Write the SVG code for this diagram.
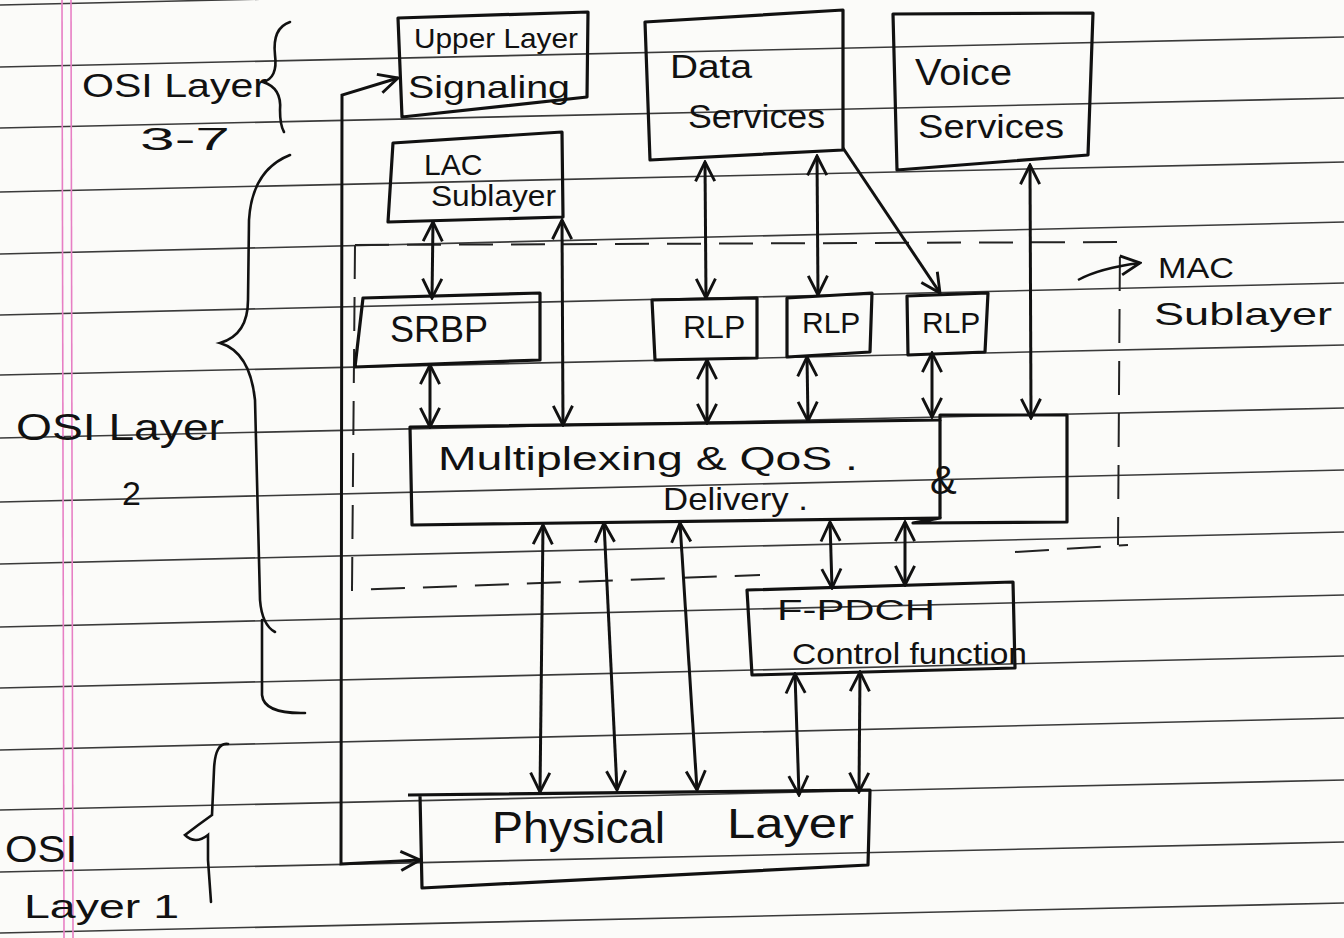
<svg xmlns="http://www.w3.org/2000/svg" width="1344" height="938" viewBox="0 0 1344 938">
<defs>
<style>
.paper{fill:#fbfbf9}
.rule{stroke:#3a3a3a;stroke-width:1.6;fill:none}
.margin{stroke:#e77fc4;stroke-width:1.6;fill:none}
.box{fill:none;stroke:#111;stroke-width:3.2;stroke-linejoin:round}
.ln{fill:none;stroke:#111;stroke-width:3}
.dash{fill:none;stroke:#222;stroke-width:2;stroke-dasharray:34 18}
.brace{fill:none;stroke:#111;stroke-width:2.6;stroke-linecap:round}
.t{font-family:"Liberation Sans",Arial,sans-serif;fill:#111}
</style>
<marker id="ah" viewBox="0 0 20 20" refX="18" refY="10" markerWidth="24" markerHeight="24" markerUnits="userSpaceOnUse" orient="auto-start-reverse">
<path d="M2,2 L18,10 L2,18" fill="none" stroke="#111" stroke-width="2.4"/>
</marker>
</defs>

<g id="paper">
<rect class="paper" x="0" y="0" width="1344" height="938"/>
<path class="rule" d="M0,5 L1344,-25"/>
<path class="rule" d="M0,67 L1344,37"/>
<path class="rule" d="M0,128 L1344,98"/>
<path class="rule" d="M0,192 L1344,162"/>
<path class="rule" d="M0,254 L1344,222"/>
<path class="rule" d="M0,315 L1344,283"/>
<path class="rule" d="M0,375 L1344,345"/>
<path class="rule" d="M0,438 L1344,408"/>
<path class="rule" d="M0,502 L1344,470"/>
<path class="rule" d="M0,564 L1344,532"/>
<path class="rule" d="M0,627 L1344,595"/>
<path class="rule" d="M0,688 L1344,656"/>
<path class="rule" d="M0,750 L1344,718"/>
<path class="rule" d="M0,810 L1344,780"/>
<path class="rule" d="M0,872 L1344,842"/>
<path class="rule" d="M0,933 L1344,903"/>
<path class="margin" d="M62,0 L64,938"/>
<path class="margin" d="M71,0 L73,938"/>
</g>

<g id="mac-sublayer">
<path class="dash" d="M355,245 L352,590 L760,575"/>
<path class="dash" d="M355,245 L1120,242 L1118,545"/>
<path class="dash" d="M1015,552 L1128,545"/>
<path class="ln" d="M1078,280 Q1100,268 1140,263" marker-end="url(#ah)" style="stroke-width:2.4"/>
<text class="t" x="1158" y="278" font-size="30" textLength="76" lengthAdjust="spacingAndGlyphs">MAC</text>
<text class="t" x="1154" y="325" font-size="32" textLength="178" lengthAdjust="spacingAndGlyphs">Sublayer</text>
</g>

<g id="osi-labels">
<path class="brace" d="M290,22 Q272,28 275,55 Q278,78 263,82 Q282,88 280,110 Q280,125 284,132"/>
<text class="t" x="82" y="97" font-size="34" textLength="185" lengthAdjust="spacingAndGlyphs">OSI Layer</text>
<text class="t" x="140" y="150" font-size="32" textLength="90" lengthAdjust="spacingAndGlyphs">3-7</text>
<path class="brace" d="M290,155 Q252,170 249,220 L248,300 Q248,335 220,343 Q250,352 255,400 L260,600 Q262,625 275,632 M262,620 L262,695 Q264,714 305,713"/>
<text class="t" x="16" y="440" font-size="36" textLength="208" lengthAdjust="spacingAndGlyphs">OSI Layer</text>
<text class="t" x="122" y="505" font-size="34">2</text>
<path class="brace" d="M228,744 Q215,742 214,770 L212,815 Q198,825 185,835 Q195,845 208,835 L208,860 L211,902"/>
<text class="t" x="5" y="862" font-size="36" textLength="72" lengthAdjust="spacingAndGlyphs">OSI</text>
<text class="t" x="24" y="918" font-size="34" textLength="155" lengthAdjust="spacingAndGlyphs">Layer 1</text>
</g>

<g id="upper-layer-signaling">
<path class="box" d="M398,18 L588,12 L587,97 L402,117 Z"/>
<text class="t" x="414" y="48" font-size="28" textLength="164" lengthAdjust="spacingAndGlyphs">Upper Layer</text>
<text class="t" x="408" y="98" font-size="32" textLength="162" lengthAdjust="spacingAndGlyphs">Signaling</text>
</g>

<g id="data-services">
<path class="box" d="M645,22 L843,10 L843,150 L650,160 Z"/>
<text class="t" x="670" y="78" font-size="34" textLength="82" lengthAdjust="spacingAndGlyphs">Data</text>
<text class="t" x="688" y="128" font-size="34" textLength="137" lengthAdjust="spacingAndGlyphs">Services</text>
</g>

<g id="voice-services">
<path class="box" d="M893,14 L1093,13 L1088,155 L897,170 Z"/>
<text class="t" x="915" y="85" font-size="36" textLength="97" lengthAdjust="spacingAndGlyphs">Voice</text>
<text class="t" x="918" y="138" font-size="34" textLength="146" lengthAdjust="spacingAndGlyphs">Services</text>
</g>

<g id="lac-sublayer">
<path class="box" d="M393,143 L562,132 L563,217 L388,222 Z"/>
<text class="t" x="424" y="175" font-size="30">LAC</text>
<text class="t" x="431" y="206" font-size="30" textLength="125" lengthAdjust="spacingAndGlyphs">Sublayer</text>
</g>

<g id="srbp">
<path class="box" d="M363,298 L540,293 L540,360 L355,367 Z"/>
<text class="t" x="390" y="342" font-size="36">SRBP</text>
</g>

<g id="rlp-1">
<path class="box" d="M652,300 L757,298 L757,358 L655,360 Z"/>
<text class="t" x="683" y="338" font-size="32">RLP</text>
</g>
<g id="rlp-2">
<path class="box" d="M787,298 L872,293 L870,352 L787,357 Z"/>
<text class="t" x="802" y="333" font-size="30">RLP</text>
</g>
<g id="rlp-3">
<path class="box" d="M907,296 L988,293 L985,352 L908,355 Z"/>
<text class="t" x="922" y="333" font-size="30">RLP</text>
</g>

<g id="multiplexing-qos-delivery">
<path class="box" d="M410,427 L940,420 L940,415 L1067,415 L1067,522 L913,523 L940,518 L412,525 Z"/>
<path class="box" d="M940,420 L940,518"/>
<text class="t" x="438" y="470" font-size="34" textLength="420" lengthAdjust="spacingAndGlyphs">Multiplexing &amp; QoS .</text>
<text class="t" x="663" y="510" font-size="32" textLength="145" lengthAdjust="spacingAndGlyphs">Delivery .</text>
<text class="t" x="930" y="494" font-size="40">&amp;</text>
</g>

<g id="f-pdch-control">
<path class="box" d="M747,590 L1013,582 L1015,668 L752,675 Z"/>
<text class="t" x="777" y="620" font-size="30" textLength="158" lengthAdjust="spacingAndGlyphs">F-PDCH</text>
<text class="t" x="792" y="664" font-size="30" textLength="235" lengthAdjust="spacingAndGlyphs">Control function</text>
</g>

<g id="physical-layer">
<path class="box" d="M408,795 L870,790 L868,865 L422,888 L420,795"/>
<text class="t" x="492" y="843" font-size="44" textLength="173" lengthAdjust="spacingAndGlyphs">Physical</text>
<text class="t" x="727" y="838" font-size="42" textLength="127" lengthAdjust="spacingAndGlyphs">Layer</text>
</g>

<g id="connectors">
<path class="ln" d="M420,860 L341,864 L342,95 L398,78" marker-start="url(#ah)" marker-end="url(#ah)"/>
<path class="ln" d="M433,222 L432,298" marker-start="url(#ah)" marker-end="url(#ah)"/>
<path class="ln" d="M562,220 L563,425" marker-start="url(#ah)" marker-end="url(#ah)"/>
<path class="ln" d="M430,365 L430,427" marker-start="url(#ah)" marker-end="url(#ah)"/>
<path class="ln" d="M705,162 L706,298" marker-start="url(#ah)" marker-end="url(#ah)"/>
<path class="ln" d="M817,156 L818,295" marker-start="url(#ah)" marker-end="url(#ah)"/>
<path class="ln" d="M843,148 L940,293" marker-end="url(#ah)"/>
<path class="ln" d="M707,360 L707,423" marker-start="url(#ah)" marker-end="url(#ah)"/>
<path class="ln" d="M807,357 L808,421" marker-start="url(#ah)" marker-end="url(#ah)"/>
<path class="ln" d="M932,353 L932,417" marker-start="url(#ah)" marker-end="url(#ah)"/>
<path class="ln" d="M1030,165 L1031,418" marker-start="url(#ah)" marker-end="url(#ah)"/>
<path class="ln" d="M543,525 L540,792" marker-start="url(#ah)" marker-end="url(#ah)"/>
<path class="ln" d="M604,523 L617,790" marker-start="url(#ah)" marker-end="url(#ah)"/>
<path class="ln" d="M680,523 L697,790" marker-start="url(#ah)" marker-end="url(#ah)"/>
<path class="ln" d="M830,522 L832,588" marker-start="url(#ah)" marker-end="url(#ah)"/>
<path class="ln" d="M905,522 L905,585" marker-start="url(#ah)" marker-end="url(#ah)"/>
<path class="ln" d="M795,674 L799,795" marker-start="url(#ah)" marker-end="url(#ah)"/>
<path class="ln" d="M860,672 L859,792" marker-start="url(#ah)" marker-end="url(#ah)"/>
</g>
</svg>
